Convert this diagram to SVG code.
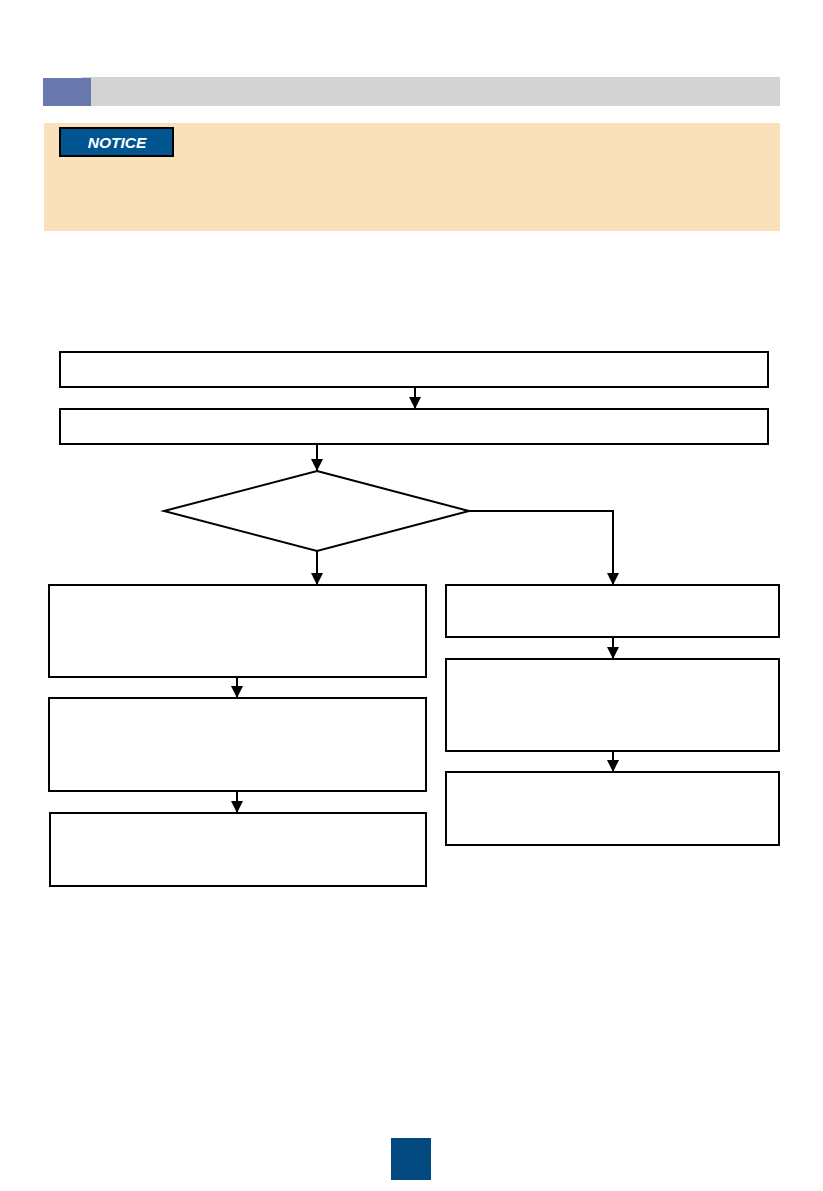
<svg xmlns="http://www.w3.org/2000/svg" width="823" height="1191" viewBox="0 0 823 1191">
<defs>
<style>
.box{fill:#fff;stroke:#000;stroke-width:2}
.conn{fill:none;stroke:#000;stroke-width:2}
</style>
<marker id="ah" markerWidth="12" markerHeight="12" refX="12" refY="6" orient="auto" markerUnits="userSpaceOnUse">
<path d="M0,0 L12,6 L0,12 Z" fill="#000"/>
</marker>
</defs>
<rect width="823" height="1191" fill="#fff"/>
<g id="header">
<rect x="82" y="77" width="698" height="29" fill="#d3d3d3"/>
<rect x="43" y="78" width="48" height="28" fill="#6a78b0"/>
</g>
<g id="notice">
<rect x="44" y="123" width="736" height="108" fill="#fae1bc"/>
<rect x="60" y="128" width="113" height="28" fill="#005591" stroke="#000" stroke-width="2"/>
<text x="117" y="148" text-anchor="middle" font-family="Liberation Sans, Arial, sans-serif" font-size="15.5" font-weight="bold" font-style="italic" fill="#fff">NOTICE</text>
</g>
<g id="connectors">
<line class="conn" x1="415" y1="387" x2="415" y2="409" marker-end="url(#ah)"/>
<line class="conn" x1="317" y1="444" x2="317" y2="471" marker-end="url(#ah)"/>
<line class="conn" x1="317" y1="551" x2="317" y2="585" marker-end="url(#ah)"/>
<polyline class="conn" points="469,511 613,511 613,585" marker-end="url(#ah)"/>
<line class="conn" x1="237" y1="677" x2="237" y2="698" marker-end="url(#ah)"/>
<line class="conn" x1="237" y1="791" x2="237" y2="813" marker-end="url(#ah)"/>
<line class="conn" x1="613" y1="637" x2="613" y2="659" marker-end="url(#ah)"/>
<line class="conn" x1="613" y1="751" x2="613" y2="772" marker-end="url(#ah)"/>
</g>
<g id="n1"><rect class="box" x="60" y="352" width="708" height="35"/></g>
<g id="n2"><rect class="box" x="60" y="409" width="708" height="35"/></g>
<g id="decision"><polygon class="box" points="317,471 469,511 317,551 164,511"/></g>
<g id="nA"><rect class="box" x="49" y="585" width="377" height="92"/></g>
<g id="nB"><rect class="box" x="49" y="698" width="377" height="93"/></g>
<g id="nC"><rect class="box" x="50" y="813" width="376" height="73"/></g>
<g id="nD"><rect class="box" x="446" y="585" width="333" height="52"/></g>
<g id="nE"><rect class="box" x="446" y="659" width="333" height="92"/></g>
<g id="nF"><rect class="box" x="446" y="772" width="333" height="73"/></g>
<g id="page"><rect x="391" y="1138" width="40" height="42" fill="#02497f"/></g>
</svg>
